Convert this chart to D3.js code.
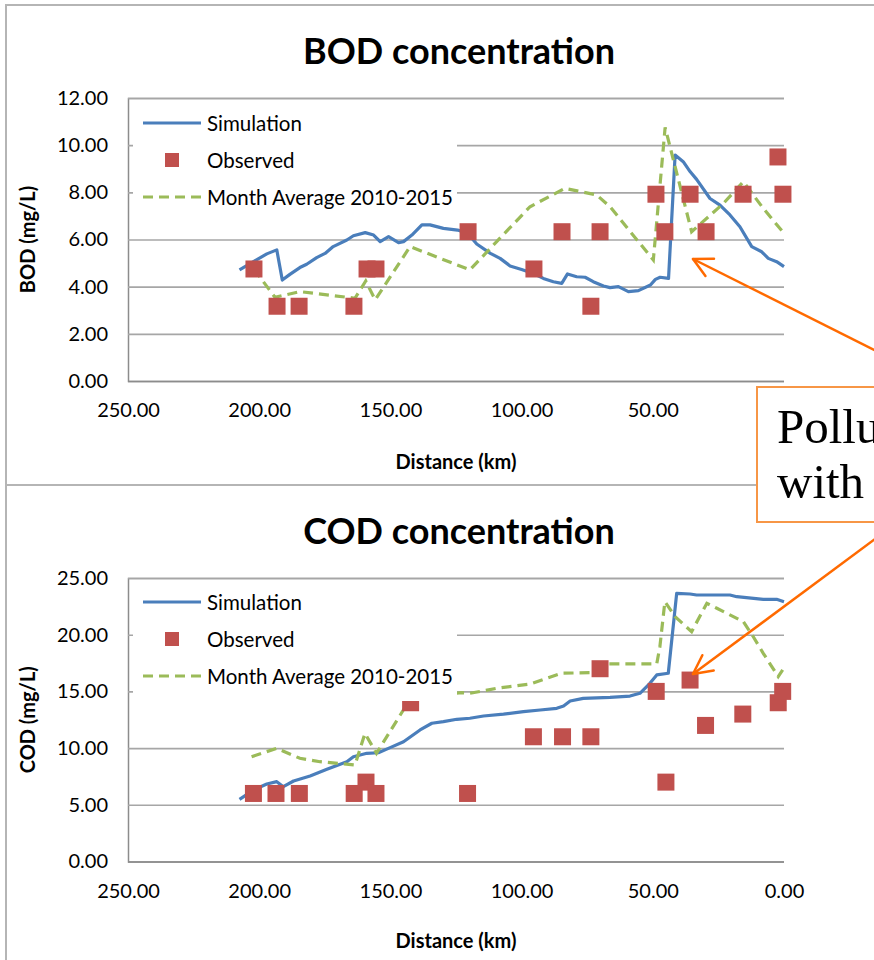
<!DOCTYPE html>
<html>
<head>
<meta charset="utf-8">
<script src="https://cdn.jsdelivr.net/npm/d3@7"></script>
<style>
  html, body { margin: 0; padding: 0; background: #fff; overflow: hidden; }
  svg { display: block; }
  text { font-family: Lato, "Open Sans", sans-serif; fill: #000; }
</style>
</head>
<body>
<svg id="chart" width="874" height="960"></svg>
<script>
// ---------------- data ----------------
const distanceTicks = [250, 200, 150, 100, 50, 0];
const bodTicks = [0, 2, 4, 6, 8, 10, 12];
const codTicks = [0, 5, 10, 15, 20, 25];
const legendLabels = ["Simulation", "Observed", "Month Average 2010-2015"];

// BOD – simulated profile (distance km, mg/L)
const bodSimKm  = [207.5, 202.2, 197.1, 193.3, 191.2, 188.3, 184.5, 181.9, 178.1, 174.9, 171.8, 166.6, 164.1, 159.6, 156.4, 153.9, 150.7, 146.9, 145.0, 141.8, 138.0, 134.9, 129.8, 124.4, 120.5, 117.1, 111.9, 108.2, 104.4, 100.0, 95.5, 91.7, 87.9, 84.7, 82.5, 79.0, 75.8, 72.7, 68.8, 66.3, 63.1, 59.3, 55.5, 50.9, 49.0, 47.2, 44.0, 41.5, 38.4, 35.8, 33.3, 28.2, 24.4, 20.6, 16.8, 12.3, 8.5, 6.0, 2.8, 0.0];
const bodSimVal = [4.71, 5.06, 5.39, 5.56, 4.28, 4.52, 4.81, 4.95, 5.23, 5.41, 5.70, 5.98, 6.16, 6.29, 6.19, 5.91, 6.12, 5.87, 5.91, 6.19, 6.62, 6.62, 6.47, 6.40, 6.26, 5.81, 5.41, 5.20, 4.88, 4.73, 4.56, 4.35, 4.21, 4.14, 4.54, 4.42, 4.40, 4.21, 4.03, 3.96, 4.00, 3.79, 3.83, 4.07, 4.31, 4.40, 4.35, 9.58, 9.30, 8.88, 8.55, 7.74, 7.46, 7.04, 6.54, 5.70, 5.48, 5.20, 5.06, 4.85];

// BOD – observed samples
const bodObsKm  = [202.0, 193.2, 184.8, 163.9, 158.9, 155.5, 120.4, 95.3, 84.6, 73.6, 70.1, 48.8, 45.4, 35.8, 29.7, 15.6, 2.3, 0.4];
const bodObsVal = [4.75, 3.17, 3.17, 3.17, 4.75, 4.75, 6.33, 4.75, 6.33, 3.17, 6.33, 7.92, 6.33, 7.92, 6.33, 7.92, 9.50, 7.92];

// BOD – monthly average 2010-2015
const bodAvgKm  = [202.0, 194.0, 184.5, 163.5, 159.4, 155.8, 142.5, 119.7, 109.5, 96.8, 83.5, 71.4, 66.3, 49.8, 45.3, 35.2, 23.1, 15.5, 7.9, 0.0];
const bodAvgVal = [4.75, 3.55, 3.79, 3.51, 4.24, 3.44, 5.70, 4.71, 5.91, 7.39, 8.17, 7.89, 7.39, 5.13, 10.75, 6.33, 7.53, 8.45, 7.32, 6.26];

// COD – simulated profile
const codSimKm  = [207.5, 202.2, 197.1, 193.3, 190.8, 186.9, 180.6, 174.2, 166.6, 164.1, 159.0, 154.6, 150.1, 145.0, 138.7, 134.2, 129.8, 124.7, 119.7, 114.5, 106.9, 99.3, 92.9, 86.6, 84.0, 81.5, 76.5, 66.3, 58.7, 54.9, 51.1, 48.5, 44.1, 40.9, 35.8, 33.3, 20.6, 18.0, 7.9, 2.8, 0.0];
const codSimVal = [5.48, 6.30, 6.83, 7.04, 6.60, 7.10, 7.54, 8.13, 8.80, 9.24, 9.54, 9.59, 10.04, 10.56, 11.60, 12.19, 12.33, 12.54, 12.63, 12.83, 13.00, 13.21, 13.36, 13.51, 13.71, 14.15, 14.39, 14.48, 14.59, 14.83, 15.71, 16.45, 16.60, 23.65, 23.59, 23.50, 23.50, 23.35, 23.12, 23.12, 22.91];

// COD – observed samples
const codObsKm  = [202.2, 193.6, 184.7, 163.8, 159.3, 155.5, 142.3, 120.6, 95.5, 84.4, 73.6, 70.1, 48.7, 45.0, 35.8, 29.9, 15.7, 2.2, 0.5];
const codObsVal = [6, 6, 6, 6, 7, 6, 14, 6, 11, 11, 11, 17, 15, 7, 16, 12, 13, 14, 15];

// COD – monthly average 2010-2015
const codAvgKm  = [202.9, 193.4, 184.5, 176.8, 163.5, 159.7, 155.3, 142.3, 122.9, 119.7, 109.5, 96.8, 90.5, 84.8, 73.9, 67.6, 48.5, 47.3, 45.4, 41.5, 35.2, 29.4, 25.6, 15.5, 11.7, 7.9, 2.2, 0.5];
const codAvgVal = [9.24, 9.98, 9.10, 8.80, 8.51, 11.30, 9.54, 14.39, 14.89, 14.83, 15.27, 15.65, 16.15, 16.60, 16.65, 17.42, 17.42, 18.94, 22.91, 21.59, 20.27, 22.77, 22.33, 21.15, 19.82, 18.36, 16.30, 16.89];

const calloutLines = ["Pollution", "with"];

// ---------------- styles ----------------
const SIM_COLOR = "#4a7ebb";
const OBS_COLOR = "#c0504d";
const AVG_COLOR = "#9bbb59";
const GRID_COLOR = "#a6a6a6";
const FRAME_COLOR = "#b5b5b5";

const svg = d3.select("#chart");
svg.append("rect").attr("width", 874).attr("height", 960).attr("fill", "#fff");

const zip = (xs, ys) => xs.map((x, i) => [x, ys[i]]);

function drawPanel(p) {
  const g = svg.append("g");

  // chart frame
  g.append("rect")
    .attr("x", p.frame[0]).attr("y", p.frame[1])
    .attr("width", p.frame[2]).attr("height", p.frame[3])
    .attr("fill", "#fff").attr("stroke", FRAME_COLOR).attr("stroke-width", 2);

  const x = d3.scaleLinear().domain([250, 0]).range([128, 784]);
  const y = d3.scaleLinear().domain([0, p.yMax]).range([p.bottom, p.top]);

  // gridlines + y tick labels
  const yAxis = g.append("g")
    .attr("transform", "translate(128,0)")
    .call(d3.axisLeft(y).tickValues(p.yTicks).tickSize(-656).tickPadding(20).tickFormat(d3.format(".2f")));
  yAxis.select(".domain").attr("stroke", "#8c8c8c").attr("stroke-width", 1.5);
  yAxis.selectAll(".tick line").attr("stroke", GRID_COLOR).attr("stroke-width", 1.6)
    .filter(d => d === 0).attr("stroke", "#8c8c8c");
  yAxis.selectAll(".tick text").attr("font-size", 20).attr("font-family", "Lato");

  // x axis
  const xAxis = g.append("g")
    .attr("transform", `translate(0,${p.bottom})`)
    .call(d3.axisBottom(x).tickValues(p.xTicks).tickSize(0).tickPadding(22).tickFormat(d3.format(".2f")));
  xAxis.select(".domain").remove();
  xAxis.selectAll(".tick text").attr("font-size", 20).attr("font-family", "Lato");

  // titles
  g.append("text").attr("x", 459).attr("y", p.titleY)
    .attr("text-anchor", "middle").attr("dominant-baseline", "central")
    .attr("font-weight", "bold").attr("font-size", 36).text(p.title);
  g.append("text").attr("x", 456).attr("y", p.xTitleY)
    .attr("text-anchor", "middle").attr("dominant-baseline", "central")
    .attr("font-weight", "bold").attr("font-size", 20).text("Distance (km)");
  g.append("text")
    .attr("transform", `translate(27,${(p.top + p.bottom) / 2}) rotate(-90)`)
    .attr("text-anchor", "middle").attr("dominant-baseline", "central")
    .attr("font-weight", "bold").attr("font-size", 20).text(p.yTitle);

  const line = d3.line().x(d => x(d[0])).y(d => y(d[1]));

  // simulation
  g.append("path").datum(zip(p.simKm, p.simVal))
    .attr("d", line).attr("fill", "none")
    .attr("stroke", SIM_COLOR).attr("stroke-width", 3.2).attr("stroke-linejoin", "round");

  // monthly average
  g.append("path").datum(zip(p.avgKm, p.avgVal))
    .attr("d", line).attr("fill", "none")
    .attr("stroke", AVG_COLOR).attr("stroke-width", 3.2)
    .attr("stroke-dasharray", "10,6");

  // observations
  const s = 17;
  g.selectAll("rect.obs").data(zip(p.obsKm, p.obsVal)).enter()
    .append("rect").attr("class", "obs")
    .attr("x", d => x(d[0]) - s / 2).attr("y", d => y(d[1]) - s / 2)
    .attr("width", s).attr("height", s).attr("fill", OBS_COLOR);

  // legend
  const lg = g.append("g").attr("transform", `translate(133,${p.legendTop})`);
  lg.append("rect").attr("x", 0).attr("y", 0).attr("width", 324).attr("height", 117).attr("fill", "#fff");
  const rows = [18, 55, 92];
  lg.append("line").attr("x1", 10).attr("x2", 68).attr("y1", rows[0]).attr("y2", rows[0])
    .attr("stroke", SIM_COLOR).attr("stroke-width", 3.2);
  lg.append("rect").attr("x", 39 - 7).attr("y", rows[1] - 7).attr("width", 14).attr("height", 14)
    .attr("fill", OBS_COLOR);
  lg.append("line").attr("x1", 10).attr("x2", 68).attr("y1", rows[2]).attr("y2", rows[2])
    .attr("stroke", AVG_COLOR).attr("stroke-width", 3.2).attr("stroke-dasharray", "10,6");
  legendLabels.forEach((t, i) => {
    lg.append("text").attr("x", 74).attr("y", rows[i])
      .attr("dominant-baseline", "central").attr("font-size", 20.5).text(t);
  });
}

drawPanel({
  frame: [6, 5, 920, 480],
  top: 98, bottom: 381, yMax: 12, yTicks: bodTicks,
  // the 0.00 label of this axis sits beneath the callout box
  xTicks: distanceTicks.filter(d => d !== 0),
  title: "BOD concentration", titleY: 50, xTitleY: 461, yTitle: "BOD (mg/L)",
  legendTop: 105,
  simKm: bodSimKm, simVal: bodSimVal,
  obsKm: bodObsKm, obsVal: bodObsVal,
  avgKm: bodAvgKm, avgVal: bodAvgVal
});

drawPanel({
  frame: [6, 485, 920, 520],
  top: 578, bottom: 861.5, yMax: 25, yTicks: codTicks,
  xTicks: distanceTicks,
  title: "COD concentration", titleY: 530, xTitleY: 940, yTitle: "COD (mg/L)",
  legendTop: 584,
  simKm: codSimKm, simVal: codSimVal,
  obsKm: codObsKm, obsVal: codObsVal,
  avgKm: codAvgKm, avgVal: codAvgVal
});

// ---------------- callout ----------------
const ARROW = "#ff6a00";
const callout = svg.append("g");
callout.append("rect").attr("x", 757).attr("y", 387).attr("width", 200).attr("height", 135)
  .attr("fill", "#fff").attr("stroke", "#f79646").attr("stroke-width", 2);
calloutLines.forEach((t, i) => {
  callout.append("text").attr("x", 777).attr("y", 443 + i * 55)
    .style("font-family", "'Liberation Serif', 'DejaVu Serif', serif")
    .attr("font-size", 49).text(t);
});

function arrow(x1, y1, x2, y2) {
  const a = Math.atan2(y1 - y2, x1 - x2);
  const len = 21, spread = 27 * Math.PI / 180;
  callout.append("line").attr("x1", x1).attr("y1", y1).attr("x2", x2).attr("y2", y2)
    .attr("stroke", ARROW).attr("stroke-width", 2.5);
  [a - spread, a + spread].forEach(b => {
    callout.append("line").attr("x1", x2).attr("y1", y2)
      .attr("x2", x2 + len * Math.cos(b)).attr("y2", y2 + len * Math.sin(b))
      .attr("stroke", ARROW).attr("stroke-width", 2.5).attr("stroke-linecap", "round");
  });
}
arrow(950, 388, 693, 259);
arrow(898, 522, 693, 674);
</script>
</body>
</html>
